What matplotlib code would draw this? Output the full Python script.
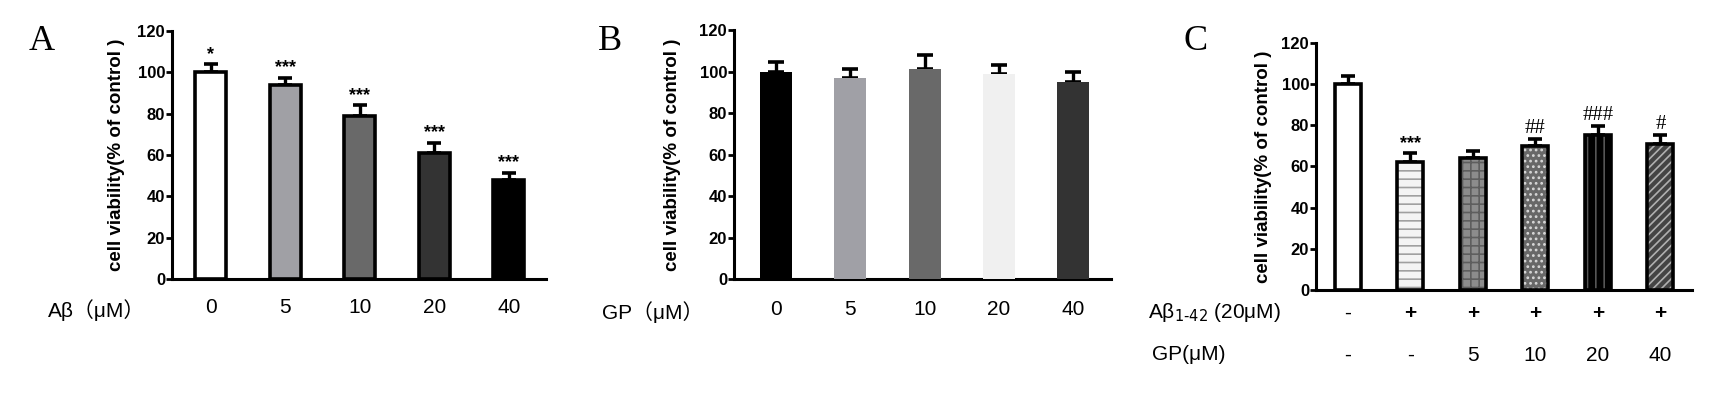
import numpy as np
import matplotlib
matplotlib.use('Agg')
import matplotlib.pyplot as plt

plt.rcParams['font.family'] = ['Liberation Sans', 'Noto Sans CJK SC', 'DejaVu Sans']
plt.rcParams['hatch.linewidth'] = 1.2

# panel A: A-beta dose response
a_labels = ['0', '5', '10', '20', '40']
a_means = [100, 94, 79, 61, 48]
a_errs = [4, 3.5, 5, 5, 3.5]
a_colors = ['#ffffff', '#a0a0a5', '#696969', '#333333', '#000000']
a_marks = ['*', '***', '***', '***', '***']

# panel B: GP alone
b_labels = ['0', '5', '10', '20', '40']
b_means = [100, 97, 101, 99, 95]
b_errs = [4.5, 4, 7, 4, 5]
b_colors = ['#000000', '#a0a0a6', '#696969', '#f0f0f0', '#333333']

# panel C: A-beta 1-42 + GP
c_abeta = ['-', '+', '+', '+', '+', '+']
c_gp = ['-', '-', '5', '10', '20', '40']
c_means = [100, 62, 64, 70, 75, 71]
c_errs = [4, 4.5, 3.5, 3.5, 4.5, 4]
c_faces = ['#ffffff', '#f4f4f4', '#8c8c8c', '#686868', '#000000', '#444444']
c_hatch = [None, '--', '++', '...', '||', '////']
c_hcolor = ['#000000', '#a0a0a0', '#5e5e5e', '#d8d8d8', '#555555', '#b0b0b0']
c_marks = ['', '***', '', '##', '###', '#']

ylab = 'cell viability(% of control )'


def style_axis(ax, xlim):
    ax.set_ylim(0, 120)
    ax.set_xlim(*xlim)
    ax.set_yticks(range(0, 121, 20))
    for s in ['top', 'right']:
        ax.spines[s].set_visible(False)
    for s in ['left', 'bottom']:
        ax.spines[s].set_linewidth(2.2)
    ax.tick_params(axis='y', length=4, width=2, pad=1, labelsize=12)
    for t in ax.get_yticklabels():
        t.set_fontweight('bold')
    ax.set_ylabel(ylab, fontsize=13.5, fontweight='bold')


fig = plt.figure(figsize=(17.3, 3.97), dpi=100)

# ---- A
axA = fig.add_axes([0.0994, 0.2972, 0.2162, 0.6247])
xa = np.arange(len(a_means))
axA.bar(xa, a_means, width=0.42, color=a_colors, edgecolor='black', linewidth=2.6, zorder=3)
axA.errorbar(xa, a_means, yerr=[np.zeros(len(a_errs)), a_errs], fmt='none',
             ecolor='black', elinewidth=2.4, capsize=5, capthick=2.6, zorder=2)
for x, m, e, t in zip(xa, a_means, a_errs, a_marks):
    axA.text(x, m + e + 0.5, t, ha='center', va='bottom', fontsize=13, fontweight='bold')
style_axis(axA, (-0.52, 4.5))
axA.set_xticks(xa)
axA.set_xticklabels(a_labels, fontsize=15)
axA.tick_params(axis='x', length=0, pad=14)
axA.yaxis.set_label_coords(-0.125, 0.5)
fig.text(0.056, 0.219, 'Aβ（μM）', ha='center', va='center', fontsize=15)
fig.text(0.0243, 0.895, 'A', ha='center', va='center', fontsize=26, family='Liberation Serif')

# ---- B
axB = fig.add_axes([0.4243, 0.2972, 0.2179, 0.6272])
xb = np.arange(len(b_means))
axB.bar(xb, b_means, width=0.43, color=b_colors, linewidth=0, zorder=3)
axB.errorbar(xb, b_means, yerr=[np.zeros(len(b_errs)), b_errs], fmt='none',
             ecolor='black', elinewidth=2.4, capsize=6, capthick=2.6, zorder=2)
style_axis(axB, (-0.566, 4.51))
axB.set_xticks(xb)
axB.set_xticklabels(b_labels, fontsize=15)
axB.tick_params(axis='x', length=0, pad=15)
axB.yaxis.set_label_coords(-0.14, 0.5)
fig.text(0.377, 0.214, 'GP（μM）', ha='center', va='center', fontsize=15)
fig.text(0.3526, 0.895, 'B', ha='center', va='center', fontsize=26, family='Liberation Serif')

# ---- C
axC = fig.add_axes([0.7607, 0.2695, 0.2173, 0.6229])
xc = np.arange(len(c_means))
for x, m, fc, h, hc in zip(xc, c_means, c_faces, c_hatch, c_hcolor):
    axC.bar(x, m, width=0.416, color=fc, hatch=h, edgecolor=hc, linewidth=0, zorder=3)
axC.bar(xc, c_means, width=0.416, fill=False, edgecolor='black', linewidth=2.6, zorder=4)
axC.errorbar(xc, c_means, yerr=[np.zeros(len(c_errs)), c_errs], fmt='none',
             ecolor='black', elinewidth=2.4, capsize=5, capthick=2.6, zorder=2)
for x, m, e, t in zip(xc, c_means, c_errs, c_marks):
    if t.startswith('*'):
        axC.text(x, m + e + 0.5, t, ha='center', va='bottom', fontsize=13, fontweight='bold')
    elif t:
        axC.text(x, m + e + 0.5, t, ha='center', va='bottom', fontsize=15,
                 family='Liberation Serif')
style_axis(axC, (-0.512, 5.504))
axC.set_xticks([])
tr = axC.get_xaxis_transform()
for x, s1, s2 in zip(xc, c_abeta, c_gp):
    axC.text(x, -0.093, s1, transform=tr, ha='center', va='center', fontsize=15,
             fontweight='bold' if s1 == '+' else 'normal')
    axC.text(x, -0.263, s2, transform=tr, ha='center', va='center', fontsize=15)
axC.yaxis.set_label_coords(-0.118, 0.5)
fig.text(0.6636, 0.2116, 'Aβ$_{\\text{1-42}}$ (20μM)', ha='left', va='center', fontsize=15)
fig.text(0.6659, 0.1058, 'GP(μM)', ha='left', va='center', fontsize=15)
fig.text(0.6913, 0.895, 'C', ha='center', va='center', fontsize=26, family='Liberation Serif')

fig.savefig('out.png', dpi=100)
